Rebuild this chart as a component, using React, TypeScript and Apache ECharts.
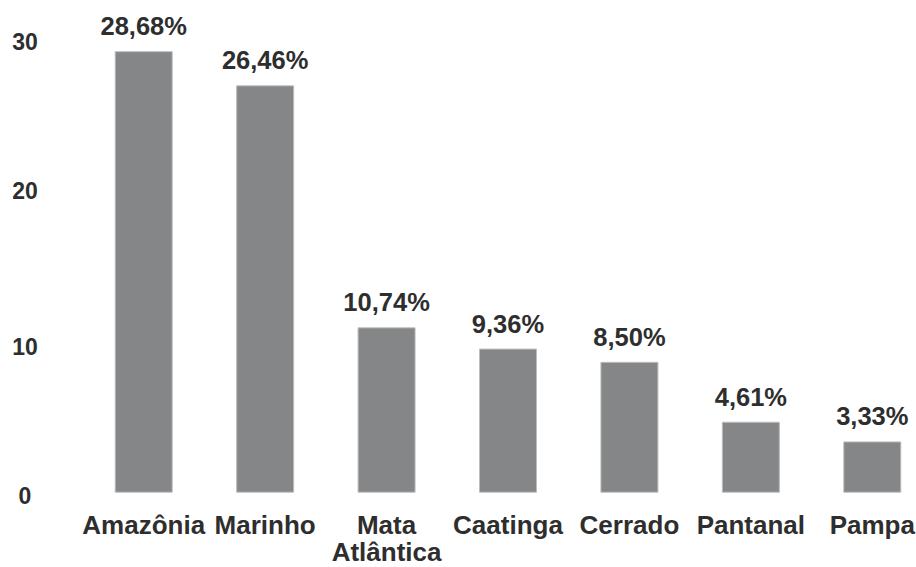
import React, { useEffect, useRef } from "react";
import * as echarts from "echarts";

const categories = ["Amazônia", "Marinho", "Mata\nAtlântica", "Caatinga", "Cerrado", "Pantanal", "Pampa"];
const values = [28.68, 26.46, 10.74, 9.36, 8.5, 4.61, 3.33];
const yTicks = { min: 0, max: 30, interval: 10 };
const yTickLabels = [0, 10, 20, 30];

export default function App() {
  const ref = useRef<HTMLDivElement>(null);
  useEffect(() => {
    if (!ref.current) return;
    const chart = echarts.init(ref.current, undefined, { renderer: "svg" });
    const font = "'Liberation Sans', Arial, sans-serif";
    // small vertical nudges of the y tick texts, as in the reference
    const nudge: Record<number, number> = { 0: 3, 10: 8, 20: 6, 30: 11 };
    const rich: Record<string, any> = {};
    yTickLabels.forEach((t) => {
      rich["t" + t] = {
        color: "#2e2e2e",
        fontFamily: font,
        fontWeight: "bold",
        fontSize: 23,
        padding: [nudge[t] * 2, 0, 0, 0],
      };
    });
    chart.setOption({
      animation: false,
      backgroundColor: "#ffffff",
      grid: {
        left: 83,
        top: 30.85,
        width: 850,
        height: 461.85,
        containLabel: false,
        outerBoundsMode: "none",
      },
      xAxis: {
        type: "category",
        data: categories,
        axisLine: { show: false },
        axisTick: { show: false },
        axisLabel: {
          interval: 0,
          margin: 19,
          color: "#2e2e2e",
          fontFamily: font,
          fontWeight: "bold",
          fontSize: 26,
          lineHeight: 27,
        },
      },
      yAxis: {
        type: "value",
        min: yTicks.min,
        max: yTicks.max,
        interval: yTicks.interval,
        axisLine: { show: false },
        axisTick: { show: false },
        splitLine: { show: false },
        axisLabel: {
          align: "center",
          margin: 58,
          formatter: (v: number) => `{t${v}|${v}}`,
          rich,
        },
      },
      series: [
        {
          type: "bar",
          data: values,
          barWidth: 58,
          itemStyle: { color: "#858687", borderColor: "#bdbdbd", borderWidth: 1 },
          label: {
            show: true,
            position: "top",
            distance: 12,
            color: "#2e2e2e",
            fontFamily: font,
            fontWeight: "bold",
            fontSize: 25.5,
            formatter: (p: any) => p.value.toFixed(2).replace(".", ",") + "%",
          },
        },
      ],
    });
    return () => chart.dispose();
  }, []);
  return (
    <div
      ref={ref}
      style={{ position: "absolute", left: 0, top: 0, width: 916, height: 567 }}
    />
  );
}
